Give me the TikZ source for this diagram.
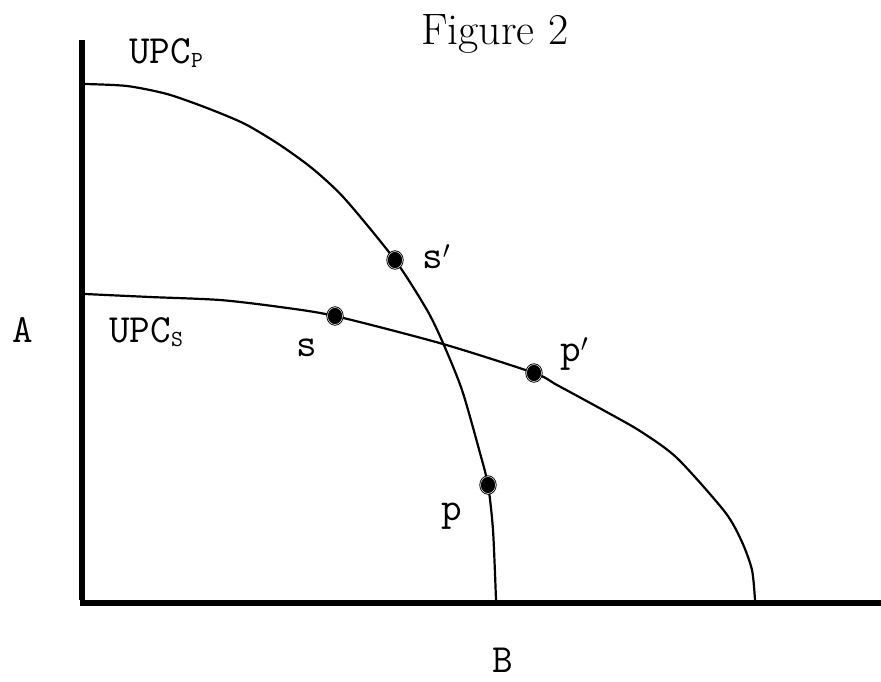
\documentclass[tikz,border=0pt]{standalone}
\usepackage{fontspec}
\setmainfont{Latin Modern Roman}
\usepackage{tikz}
\usetikzlibrary{shapes.geometric}

\newcommand{\subl}[1]{\raisebox{-4pt}{\fontsize{23}{23}\selectfont #1}}

\begin{document}
\begin{tikzpicture}[x=1pt,y=-1pt,every node/.style={inner sep=0pt,anchor=base west}]
\tikzstyle{lbl}=[font=\ttfamily\fontsize{40}{42}\selectfont]
\tikzstyle{axis}=[line width=6pt]
\tikzstyle{curve}=[line width=2.2pt,line join=round]
\tikzstyle{dot}=[ellipse,anchor=center,draw=black,fill=black,line width=0.9pt,double=white,double distance=0.5pt,minimum width=15pt,minimum height=17pt]
\useasboundingbox (0,0) rectangle (881,681);
% points on the curves
\coordinate (sp) at (395,260);
\coordinate (p) at (488,485);
\coordinate (s) at (335,316);
\coordinate (pp) at (534,373);
\coordinate (origin) at (82,603);
\coordinate (ytop) at (82,40);
\coordinate (xend) at (881,603);
% axes
\draw[axis] ([yshift=3pt]origin) -- (ytop);
\draw[axis] ([xshift=-2pt]origin) -- (xend);
% UPC_P
\draw[curve] plot[smooth,tension=0.45] coordinates {(85,84) (127,86) (167,94) (207,108) (245,124) (280,145) (313,169) (345,199) (sp) (427,310) (443,343) (462,390) (480,453) (p) (493,530) (496,600)};
% UPC_S
\draw[curve] plot[smooth,tension=0.45] coordinates {(85,294) (150,297) (220,300) (280,307) (s) (443,344) (pp) (557,385) (603,410) (640,431) (677,458) (725,512) (742,542) (752,570) (755,600)};
% dots
\node[dot] (sdot) at (s) {};
\node[dot] (spdot) at (sp) {};
\node[dot] (pdot) at (p) {};
\node[dot] (ppdot) at (pp) {};
% labels
\node[font=\fontsize{44}{46}\selectfont] (title) at (421,44) {Figure 2};
\node[lbl] (upcp) at (129,63) {UPC\subl{P}};
\node[lbl] (upcs) at (109,342) {UPC\subl{S}};
\node[lbl] (alab) at (12,342) {A};
\node[lbl] (blab) at (492,672) {B};
\node[lbl] (slab) at (296,356) {s};
\node[lbl] (splab) at (422,268) {s$'$};
\node[lbl] (plab) at (441,520) {p};
\node[lbl] (pplab) at (560,361) {p$'$};
\end{tikzpicture}
\end{document}
